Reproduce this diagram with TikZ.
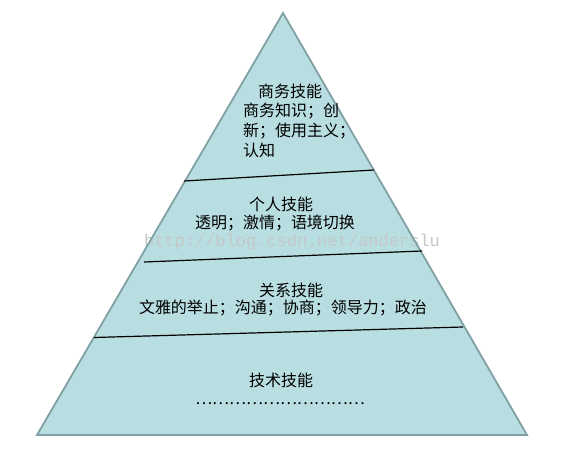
\documentclass[tikz,border=0pt]{standalone}
\usepackage{fontspec}
\newfontfamily\cjk{Noto Sans CJK SC}
\newfontfamily\wmfont{Liberation Mono}
\definecolor{pyrfill}{RGB}{184,222,226}
\definecolor{pyredge}{RGB}{128,160,164}
\definecolor{wmgray}{RGB}{196,200,200}
\tikzset{
  edge/.style={draw=pyredge, line width=1.8pt, line join=miter},
  divider/.style={draw=black, line width=1.2pt},
  lbl/.style={font=\cjk\fontsize{16}{18}\selectfont, inner sep=0pt, text=black},
  wmark/.style={font=\wmfont\fontsize{17}{20}\selectfont, inner sep=0pt, text=wmgray, anchor=base}
}
\begin{document}
\begin{tikzpicture}[x=1pt,y=-1pt]
\useasboundingbox (0,0) rectangle (574,452);
\coordinate (apex) at (283,13);
\coordinate (bl) at (37,435);
\coordinate (br) at (527,435);
\fill[pyrfill] (apex) -- (bl) -- (br) -- cycle;
\node[wmark] (wm) at (292,246) {http://blog.csdn.net/anderslu};
\draw[edge] (apex) -- (bl) -- (br) -- cycle;
% dividers
\coordinate (d1a) at (184,181);
\coordinate (d1b) at (374,170);
\coordinate (d2a) at (144,262);
\coordinate (d2b) at (422,251);
\coordinate (d3a) at (94,337.5);
\coordinate (d3b) at (463,327);
\draw[divider] (d1a) -- (d1b);
\draw[divider] (d2a) -- (d2b);
\draw[divider] (d3a) -- (d3b);
% level 1
\node[lbl] (t1) at (290,91.5) {商务技能};
\node[lbl, anchor=west] (t1a) at (243,111.5) {商务知识；创};
\node[lbl, anchor=west] (t1b) at (243,131.5) {新；使用主义；};
\node[lbl, anchor=west] (t1c) at (243,150.5) {认知};
% level 2
\node[lbl] (t2) at (281,204) {个人技能};
\node[lbl] (t2a) at (275,223.5) {透明；激情；语境切换};
% level 3
\node[lbl] (t3) at (291,290) {关系技能};
\node[lbl] (t3a) at (283,308.5) {文雅的举止；沟通；协商；领导力；政治};
% level 4
\node[lbl] (t4) at (281,380) {技术技能};
\node[lbl] (t4a) at (280,404) {…………………………};
\end{tikzpicture}
\end{document}
